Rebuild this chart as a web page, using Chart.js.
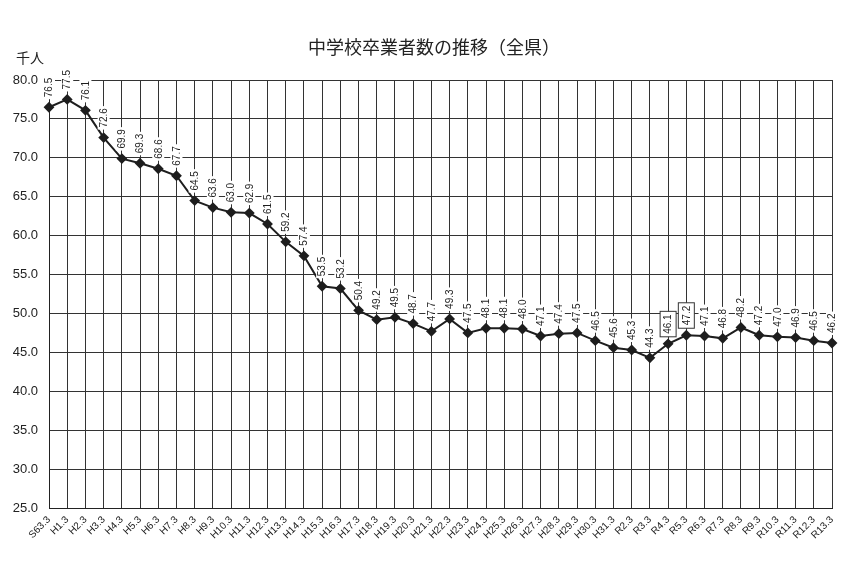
<!DOCTYPE html>
<html>
<head>
<meta charset="utf-8">
<script src="https://cdn.jsdelivr.net/npm/chart.js@4"></script>
<style>
html,body{margin:0;padding:0;background:#fff;}
#wrap{width:857px;height:577px;position:relative;}
</style>
</head>
<body>
<div id="wrap"><canvas id="c" width="857" height="577"></canvas></div>
<script>
const categories = ["S63.3","H1.3","H2.3","H3.3","H4.3","H5.3","H6.3","H7.3","H8.3","H9.3","H10.3","H11.3","H12.3","H13.3","H14.3","H15.3","H16.3","H17.3","H18.3","H19.3","H20.3","H21.3","H22.3","H23.3","H24.3","H25.3","H26.3","H27.3","H28.3","H29.3","H30.3","H31.3","R2.3","R3.3","R4.3","R5.3","R6.3","R7.3","R8.3","R9.3","R10.3","R11.3","R12.3","R13.3"];
const values = [76.5,77.5,76.1,72.6,69.9,69.3,68.6,67.7,64.5,63.6,63.0,62.9,61.5,59.2,57.4,53.5,53.2,50.4,49.2,49.5,48.7,47.7,49.3,47.5,48.1,48.1,48.0,47.1,47.4,47.5,46.5,45.6,45.3,44.3,46.1,47.2,47.1,46.8,48.2,47.2,47.0,46.9,46.5,46.2];
const yTicks = [25,30,35,40,45,50,55,60,65,70,75,80];
const boxedLabels = ["R4.3","R5.3"];
const titleText = "中学校卒業者数の推移（全県）";
const unitText = "千人";

const labelPlugin = {
  id: 'vlabels',
  afterDatasetsDraw(chart) {
    const ctx = chart.ctx;
    const meta = chart.getDatasetMeta(0);
    ctx.save();
    ctx.font = '10px "Liberation Sans Narrow", "Liberation Sans", Arial, sans-serif';
    meta.data.forEach((pt, i) => {
      const txt = values[i].toFixed(1);
      const w = ctx.measureText(txt).width;
      const boxed = boxedLabels.includes(categories[i]);
      const gap = 10;
      ctx.save();
      ctx.translate(pt.x, pt.y - gap);
      ctx.rotate(-Math.PI / 2);
      ctx.fillStyle = '#fff';
      ctx.fillRect(-2, -6, w + 4, 12);
      if (boxed) {
        ctx.strokeStyle = '#333';
        ctx.lineWidth = 1;
        ctx.fillRect(-3, -8, w + 6, 16);
        ctx.strokeRect(-3, -8, w + 6, 16);
      }
      ctx.fillStyle = '#1e1e1e';
      ctx.textAlign = 'left';
      ctx.textBaseline = 'middle';
      ctx.fillText(txt, 0, 0.5);
      ctx.restore();
    });
    ctx.restore();
  },
  afterDraw(chart) {
    const ctx = chart.ctx;
    ctx.save();
    ctx.fillStyle = '#222';
    ctx.textBaseline = 'middle';
    ctx.textAlign = 'center';
    ctx.font = '18px "Noto Sans CJK JP", sans-serif';
    ctx.fillText(titleText, 434, 47);
    ctx.textAlign = 'left';
    ctx.font = '14px "Noto Sans CJK JP", sans-serif';
    ctx.fillText(unitText, 16, 58);
    ctx.restore();
  }
};

new Chart(document.getElementById('c'), {
  type: 'line',
  data: {
    labels: categories,
    datasets: [{
      data: values,
      borderColor: '#1e1e1e',
      borderWidth: 2,
      pointStyle: 'rectRot',
      pointRadius: 4,
      pointBackgroundColor: '#1e1e1e',
      pointBorderColor: '#1e1e1e',
      tension: 0
    }]
  },
  options: {
    responsive: false,
    animation: false,
    devicePixelRatio: 1,
    layout: { padding: { top: 80, right: 25, left: 0, bottom: 0 } },
    plugins: { legend: { display: false }, tooltip: { enabled: false }, title: { display: false } },
    scales: {
      x: {
        offset: false,
        afterFit(s) { s.height = 69; },
        grid: { color: '#333', lineWidth: 1, drawTicks: false },
        border: { color: '#222', width: 1 },
        ticks: {
          autoSkip: false, minRotation: 45, maxRotation: 45, padding: 6,
          color: '#222', font: { family: '"Liberation Sans Narrow", "Liberation Sans", Arial, sans-serif', size: 10 }
        }
      },
      y: {
        min: 25, max: 80,
        afterFit(s) { s.width = 49; },
        afterBuildTicks(s) { s.ticks = yTicks.map(v => ({ value: v })); },
        grid: { color: '#333', lineWidth: 1, drawTicks: false },
        border: { color: '#222', width: 1 },
        ticks: {
          padding: 11, color: '#222',
          font: { family: '"Liberation Sans", Arial, sans-serif', size: 13 },
          callback: v => Number(v).toFixed(1)
        }
      }
    }
  },
  plugins: [labelPlugin]
});
</script>
</body>
</html>
